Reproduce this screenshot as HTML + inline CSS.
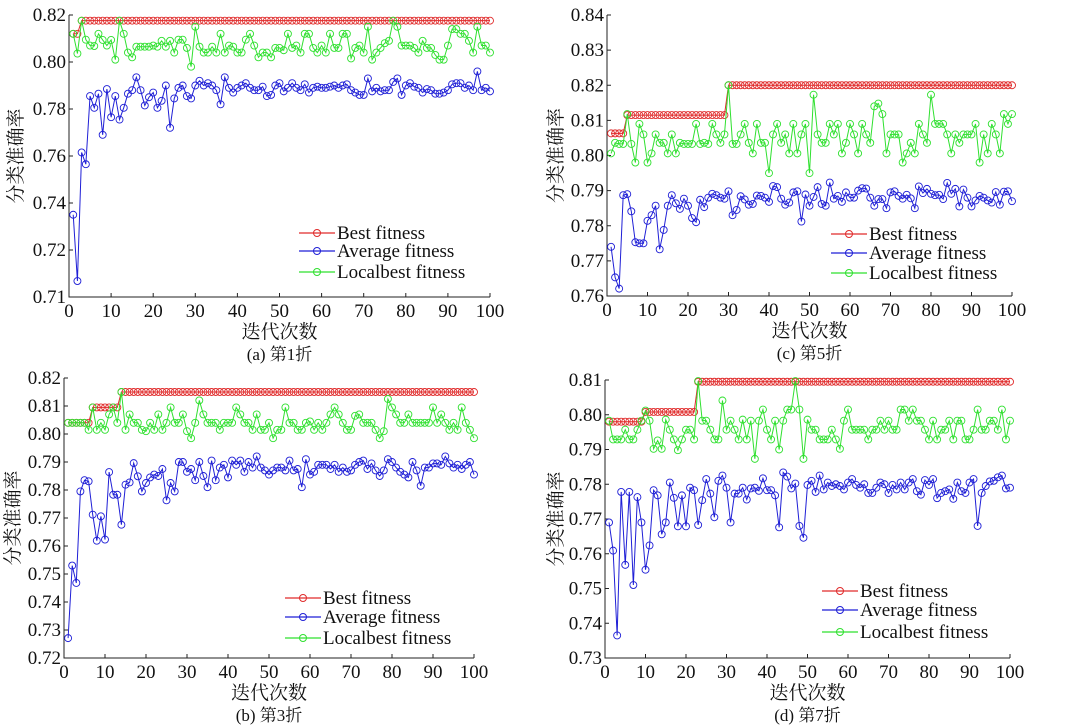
<!DOCTYPE html>
<html><head><meta charset="utf-8">
<style>
html,body{margin:0;padding:0;background:#fff;}
svg{display:block;}
svg text{font-family:"Liberation Serif","Noto Serif CJK SC",serif;}
</style></head>
<body>
<svg id="fig" width="1087" height="726" viewBox="0 0 1087 726" xmlns="http://www.w3.org/2000/svg" font-family="'Liberation Serif','Noto Serif CJK SC',serif"></svg>
<script>
// ---- data (iterations 1..100) ----
const iterations = Array.from({length:100},(_,i)=>i+1);
const xTickLabels = ['0','10','20','30','40','50','60','70','80','90','100'];
const xTickValues = [0,10,20,30,40,50,60,70,80,90,100];

// Panel (a) fold 1
const bestA = [0.812,0.812,0.8176,0.8176,0.8176,0.8176,0.8176,0.8176,0.8176,0.8176,0.8176,0.8176,0.8176,0.8176,0.8176,0.8176,0.8176,0.8176,0.8176,0.8176,0.8176,0.8176,0.8176,0.8176,0.8176,0.8176,0.8176,0.8176,0.8176,0.8176,0.8176,0.8176,0.8176,0.8176,0.8176,0.8176,0.8176,0.8176,0.8176,0.8176,0.8176,0.8176,0.8176,0.8176,0.8176,0.8176,0.8176,0.8176,0.8176,0.8176,0.8176,0.8176,0.8176,0.8176,0.8176,0.8176,0.8176,0.8176,0.8176,0.8176,0.8176,0.8176,0.8176,0.8176,0.8176,0.8176,0.8176,0.8176,0.8176,0.8176,0.8176,0.8176,0.8176,0.8176,0.8176,0.8176,0.8176,0.8176,0.8176,0.8176,0.8176,0.8176,0.8176,0.8176,0.8176,0.8176,0.8176,0.8176,0.8176,0.8176,0.8176,0.8176,0.8176,0.8176,0.8176,0.8176,0.8176,0.8176,0.8176,0.8176];
const avgA = [0.735,0.7068,0.7615,0.7565,0.7855,0.7805,0.7865,0.769,0.7885,0.7765,0.7855,0.7755,0.7805,0.7865,0.788,0.7935,0.788,0.7815,0.785,0.787,0.7805,0.7835,0.790,0.772,0.7845,0.789,0.790,0.7855,0.7845,0.790,0.792,0.790,0.791,0.790,0.788,0.782,0.7935,0.789,0.787,0.789,0.790,0.791,0.789,0.788,0.788,0.7895,0.7855,0.786,0.790,0.791,0.7875,0.789,0.791,0.789,0.788,0.7905,0.787,0.789,0.7895,0.789,0.789,0.7895,0.790,0.789,0.790,0.7905,0.788,0.787,0.786,0.786,0.793,0.7875,0.789,0.7875,0.788,0.788,0.7915,0.793,0.786,0.790,0.791,0.7895,0.789,0.787,0.7885,0.788,0.7865,0.7865,0.787,0.788,0.7905,0.791,0.791,0.789,0.790,0.788,0.796,0.788,0.789,0.7875];
const localA = [0.812,0.8036,0.8176,0.8095,0.807,0.8068,0.812,0.8094,0.807,0.8094,0.801,0.8176,0.812,0.804,0.802,0.8065,0.8065,0.8065,0.8065,0.807,0.8065,0.809,0.8065,0.809,0.804,0.8095,0.8095,0.806,0.798,0.815,0.8065,0.804,0.804,0.8065,0.804,0.812,0.804,0.807,0.8065,0.804,0.804,0.8095,0.812,0.807,0.802,0.804,0.804,0.802,0.806,0.806,0.805,0.812,0.806,0.807,0.804,0.812,0.812,0.806,0.804,0.807,0.804,0.812,0.806,0.806,0.812,0.812,0.8015,0.806,0.807,0.804,0.815,0.801,0.804,0.806,0.808,0.809,0.8176,0.815,0.807,0.807,0.807,0.806,0.804,0.809,0.806,0.806,0.803,0.801,0.801,0.807,0.814,0.814,0.812,0.812,0.809,0.804,0.815,0.807,0.807,0.804];

// Panel (c) fold 5
const bestC = [0.8063,0.8063,0.8063,0.8063,0.8115,0.8115,0.8115,0.8115,0.8115,0.8115,0.8115,0.8115,0.8115,0.8115,0.8115,0.8115,0.8115,0.8115,0.8115,0.8115,0.8115,0.8115,0.8115,0.8115,0.8115,0.8115,0.8115,0.8115,0.8115,0.820,0.820,0.820,0.820,0.820,0.820,0.820,0.820,0.820,0.820,0.820,0.820,0.820,0.820,0.820,0.820,0.820,0.820,0.820,0.820,0.820,0.820,0.820,0.820,0.820,0.820,0.820,0.820,0.820,0.820,0.820,0.820,0.820,0.820,0.820,0.820,0.820,0.820,0.820,0.820,0.820,0.820,0.820,0.820,0.820,0.820,0.820,0.820,0.820,0.820,0.820,0.820,0.820,0.820,0.820,0.820,0.820,0.820,0.820,0.820,0.820,0.820,0.820,0.820,0.820,0.820,0.820,0.820,0.820,0.820,0.820];
const avgC = [0.774,0.7653,0.7621,0.7887,0.789,0.7841,0.7753,0.775,0.775,0.7814,0.783,0.7857,0.7733,0.7788,0.7857,0.7887,0.7864,0.7848,0.7877,0.7857,0.7822,0.781,0.7874,0.7853,0.788,0.7891,0.7887,0.788,0.7877,0.7898,0.783,0.7845,0.7884,0.7875,0.786,0.7862,0.7886,0.7885,0.788,0.7868,0.7913,0.791,0.7877,0.786,0.7866,0.7895,0.7898,0.7812,0.7889,0.7857,0.7882,0.791,0.7862,0.7857,0.7923,0.7877,0.7885,0.7868,0.7895,0.788,0.788,0.790,0.7907,0.7906,0.788,0.7857,0.7876,0.7876,0.785,0.7895,0.7898,0.7885,0.7877,0.7888,0.7878,0.785,0.7912,0.7893,0.7905,0.7891,0.7887,0.7888,0.7876,0.7922,0.7891,0.7905,0.7855,0.7903,0.788,0.7855,0.7872,0.7885,0.788,0.7872,0.7866,0.7896,0.786,0.7897,0.7898,0.787];
const localC = [0.8006,0.8036,0.8033,0.8033,0.8118,0.8033,0.798,0.809,0.806,0.798,0.8006,0.806,0.8036,0.8036,0.8006,0.806,0.8006,0.8036,0.8033,0.8033,0.8033,0.809,0.8033,0.8036,0.8033,0.809,0.806,0.8036,0.806,0.820,0.8033,0.8033,0.806,0.809,0.8036,0.8006,0.809,0.8036,0.8036,0.795,0.806,0.809,0.8036,0.806,0.8006,0.809,0.8006,0.806,0.809,0.795,0.8173,0.806,0.8036,0.8036,0.809,0.806,0.809,0.8006,0.8036,0.809,0.806,0.8006,0.809,0.806,0.8036,0.814,0.8148,0.8118,0.8006,0.806,0.806,0.806,0.798,0.8006,0.8036,0.8006,0.809,0.806,0.8036,0.8173,0.809,0.809,0.809,0.806,0.8006,0.806,0.8036,0.806,0.806,0.806,0.809,0.798,0.806,0.8006,0.809,0.806,0.8006,0.8118,0.809,0.8118];

// Panel (b) fold 3
const bestB = [0.804,0.804,0.804,0.804,0.804,0.804,0.8095,0.8095,0.8095,0.8095,0.8095,0.8095,0.8095,0.815,0.815,0.815,0.815,0.815,0.815,0.815,0.815,0.815,0.815,0.815,0.815,0.815,0.815,0.815,0.815,0.815,0.815,0.815,0.815,0.815,0.815,0.815,0.815,0.815,0.815,0.815,0.815,0.815,0.815,0.815,0.815,0.815,0.815,0.815,0.815,0.815,0.815,0.815,0.815,0.815,0.815,0.815,0.815,0.815,0.815,0.815,0.815,0.815,0.815,0.815,0.815,0.815,0.815,0.815,0.815,0.815,0.815,0.815,0.815,0.815,0.815,0.815,0.815,0.815,0.815,0.815,0.815,0.815,0.815,0.815,0.815,0.815,0.815,0.815,0.815,0.815,0.815,0.815,0.815,0.815,0.815,0.815,0.815,0.815,0.815,0.815];
const avgB = [0.7271,0.753,0.7468,0.7795,0.7835,0.7831,0.7712,0.7619,0.7706,0.7623,0.7864,0.7783,0.7783,0.7676,0.7819,0.7827,0.7896,0.7849,0.7795,0.7825,0.7845,0.7855,0.785,0.7875,0.7763,0.7825,0.7795,0.790,0.790,0.7865,0.7875,0.7835,0.790,0.785,0.781,0.7905,0.7835,0.788,0.789,0.7845,0.7905,0.789,0.7905,0.7865,0.790,0.788,0.792,0.788,0.787,0.7855,0.787,0.788,0.788,0.787,0.7905,0.787,0.7875,0.781,0.791,0.7855,0.7865,0.789,0.789,0.789,0.7875,0.789,0.7865,0.788,0.7865,0.787,0.789,0.790,0.7905,0.7875,0.7895,0.787,0.785,0.787,0.791,0.790,0.788,0.7865,0.7855,0.7845,0.790,0.787,0.7815,0.788,0.788,0.7895,0.7895,0.789,0.792,0.7895,0.788,0.789,0.7875,0.789,0.790,0.7855];
const localB = [0.804,0.804,0.804,0.804,0.804,0.8015,0.8095,0.8015,0.804,0.8015,0.807,0.8095,0.804,0.815,0.8015,0.807,0.804,0.804,0.8015,0.801,0.804,0.8015,0.807,0.8015,0.804,0.8095,0.804,0.804,0.807,0.801,0.7985,0.804,0.812,0.807,0.804,0.804,0.804,0.8015,0.804,0.804,0.804,0.8095,0.807,0.804,0.804,0.8015,0.807,0.8015,0.8015,0.804,0.7985,0.8015,0.8015,0.8095,0.804,0.804,0.8015,0.8015,0.804,0.8045,0.8015,0.804,0.8015,0.804,0.807,0.8095,0.807,0.804,0.8015,0.8015,0.8065,0.807,0.804,0.804,0.804,0.8015,0.7985,0.801,0.8125,0.8095,0.807,0.804,0.804,0.807,0.804,0.804,0.804,0.804,0.804,0.8095,0.804,0.807,0.804,0.8015,0.804,0.8015,0.8095,0.804,0.8015,0.7985];

// Panel (d) fold 7
const bestD = [0.798,0.798,0.798,0.798,0.798,0.798,0.798,0.798,0.798,0.8008,0.8008,0.8008,0.8008,0.8008,0.8008,0.8008,0.8008,0.8008,0.8008,0.8008,0.8008,0.8008,0.8095,0.8095,0.8095,0.8095,0.8095,0.8095,0.8095,0.8095,0.8095,0.8095,0.8095,0.8095,0.8095,0.8095,0.8095,0.8095,0.8095,0.8095,0.8095,0.8095,0.8095,0.8095,0.8095,0.8095,0.8095,0.8095,0.8095,0.8095,0.8095,0.8095,0.8095,0.8095,0.8095,0.8095,0.8095,0.8095,0.8095,0.8095,0.8095,0.8095,0.8095,0.8095,0.8095,0.8095,0.8095,0.8095,0.8095,0.8095,0.8095,0.8095,0.8095,0.8095,0.8095,0.8095,0.8095,0.8095,0.8095,0.8095,0.8095,0.8095,0.8095,0.8095,0.8095,0.8095,0.8095,0.8095,0.8095,0.8095,0.8095,0.8095,0.8095,0.8095,0.8095,0.8095,0.8095,0.8095,0.8095,0.8095];
const avgD = [0.769,0.7609,0.7365,0.7778,0.7568,0.7778,0.751,0.7763,0.769,0.7554,0.7624,0.7783,0.7768,0.7656,0.769,0.7805,0.7761,0.7679,0.7768,0.7679,0.779,0.7783,0.7683,0.7754,0.7815,0.7773,0.7705,0.781,0.7825,0.779,0.769,0.7773,0.7773,0.779,0.7756,0.7788,0.779,0.7781,0.7817,0.7783,0.7783,0.7768,0.7676,0.7834,0.7822,0.7788,0.7802,0.768,0.7646,0.7798,0.781,0.7778,0.7825,0.7785,0.7805,0.7795,0.780,0.7795,0.7785,0.7805,0.7815,0.7798,0.779,0.780,0.7775,0.7775,0.779,0.7805,0.780,0.7775,0.7798,0.7785,0.7805,0.7785,0.7805,0.7815,0.778,0.777,0.7812,0.7798,0.7815,0.776,0.7775,0.778,0.7785,0.7758,0.7805,0.778,0.7775,0.7805,0.7815,0.768,0.7775,0.7795,0.7808,0.781,0.782,0.7825,0.7788,0.779];
const localD = [0.7983,0.7929,0.7929,0.7929,0.7957,0.7929,0.7929,0.7957,0.7983,0.8012,0.7983,0.7902,0.7926,0.7902,0.7986,0.7957,0.7929,0.7898,0.7929,0.7957,0.7957,0.7929,0.8097,0.7983,0.7983,0.7957,0.7929,0.7929,0.8041,0.7957,0.7983,0.7957,0.7929,0.7986,0.7929,0.7983,0.7873,0.7983,0.8015,0.7957,0.7929,0.7983,0.790,0.7983,0.8015,0.8015,0.8097,0.8015,0.7873,0.7986,0.7957,0.7957,0.7929,0.7929,0.7929,0.7957,0.7929,0.7902,0.7983,0.8015,0.7957,0.7957,0.7957,0.7957,0.7929,0.7957,0.7957,0.7983,0.7957,0.7983,0.7957,0.7957,0.8015,0.8015,0.7983,0.8015,0.7983,0.7983,0.7957,0.7929,0.7983,0.7929,0.7957,0.7957,0.7983,0.7929,0.7983,0.7983,0.7929,0.7929,0.7957,0.8015,0.7957,0.7957,0.7983,0.7983,0.7957,0.8015,0.7929,0.7983];

// y tick labels per panel
const yTicksA = [0.82,0.80,0.78,0.76,0.74,0.72,0.70];
const yLabelsA = ['0.82','0.80','0.78','0.76','0.74','0.72','0.71'];
const yTicksC = [0.84,0.83,0.82,0.81,0.80,0.79,0.78,0.77,0.76];
const yLabelsC = ['0.84','0.83','0.82','0.81','0.80','0.79','0.78','0.77','0.76'];
const yTicksB = [0.82,0.81,0.80,0.79,0.78,0.77,0.76,0.75,0.74,0.73,0.72];
const yLabelsB = ['0.82','0.81','0.80','0.79','0.78','0.77','0.76','0.75','0.74','0.73','0.72'];
const yTicksD = [0.81,0.80,0.79,0.78,0.77,0.76,0.75,0.74,0.73];
const yLabelsD = ['0.81','0.80','0.79','0.78','0.77','0.76','0.75','0.74','0.73'];
const seriesNames = ['Best fitness','Average fitness','Localbest fitness'];

const NS='http://www.w3.org/2000/svg';
const svg=document.getElementById('fig');
const COLORS=['#e02b2b','#1f1fd6','#2fe02f'];
const FONT="'Liberation Serif','Noto Serif CJK SC',serif";

function mk(tag,attrs,parent){const e=document.createElementNS(NS,tag);for(const k in attrs)e.setAttribute(k,attrs[k]);if(tag==='text')e.setAttribute('font-family',FONT);(parent||svg).appendChild(e);return e;}

function panel(p){
  const g=mk('g',{});
  
  
  const xs=v=>p.x0+(v)*(p.x1-p.x0)/100;
  const ys=v=>p.yTop+(p.vTop-v)*(p.yBot-p.yTop)/(p.vTop-p.vBot);
  const ax=mk('path',{d:`M${p.x0},${p.yTop} V${p.yBot} H${p.x1}`,fill:'none',stroke:'#222','stroke-width':1},g);
  
  
  p.yT.forEach((v,i)=>{
    const y=ys(v);
    mk('line',{x1:p.x0,x2:p.x0+4,y1:y,y2:y,stroke:'#222'},g);
    const t=mk('text',{x:p.x0-3,y:y+6,'text-anchor':'end','font-size':19,fill:'#111'},g);
    t.textContent=p.yL[i];
    
    
  });
  xTickValues.forEach((v,i)=>{
    const x=xs(v);
    mk('line',{x1:x,x2:x,y1:p.yBot,y2:p.yBot-4,stroke:'#222'},g);
    const t=mk('text',{x:x,y:p.yBot+20,'text-anchor':'middle','font-size':19,fill:'#111'},g);
    t.textContent=xTickLabels[i];
    
    
  });
  const data=[p.best,p.avg,p.local];
  [0,1,2].forEach(si=>{
    const arr=data[si];
    const sg=mk('g',{},g);
    
    
    const pts=arr.map((v,i)=>xs(iterations[i]).toFixed(2)+','+ys(v).toFixed(2)).join(' ');
    mk('polyline',{points:pts,fill:'none',stroke:COLORS[si],'stroke-width':1},sg);
    arr.forEach((v,i)=>{
      const c=mk('circle',{cx:xs(iterations[i]),cy:ys(v),r:3.5,fill:'none',stroke:COLORS[si],'stroke-width':0.9},sg);
      
      
    });
  });
  const lg=mk('g',{},g);
  
  
  seriesNames.forEach((n,i)=>{
    const y=p.legY[i];
    mk('line',{x1:p.legX,x2:p.legX+36,y1:y,y2:y,stroke:COLORS[i],'stroke-width':1.2},lg);
    mk('circle',{cx:p.legX+18,cy:y,r:3.5,fill:'none',stroke:COLORS[i],'stroke-width':1},lg);
    const t=mk('text',{x:p.legX+38,y:y+6,'font-size':19,fill:'#111'},lg);
    t.textContent=n;
    
    
  });
  const xt=mk('text',{x:(p.x0+p.x1)/2,y:p.yBot+41,'text-anchor':'middle','font-size':19,fill:'#111'},g);
  xt.textContent='迭代次数';
  
  
  const cap=mk('text',{x:(p.x0+p.x1)/2,y:p.yBot+63,'text-anchor':'middle','font-size':17,fill:'#111'},g);
  cap.textContent=p.caption;
  
  
  const yc=(p.yTop+p.yBot)/2;
  const yt=mk('text',{x:p.yLabX,y:yc,'text-anchor':'middle','font-size':19,fill:'#111',transform:`rotate(-90 ${p.yLabX} ${yc})`},g);
  yt.textContent='分类准确率';
  
  
}

panel({id:'a',x0:69,x1:490,yTop:15,yBot:297,vTop:0.82,vBot:0.70,yT:yTicksA,yL:yLabelsA,best:bestA,avg:avgA,local:localA,legX:299,legY:[233,251,272],caption:'(a) 第1折',yLabX:22});
panel({id:'c',x0:607,x1:1012,yTop:15,yBot:296,vTop:0.84,vBot:0.76,yT:yTicksC,yL:yLabelsC,best:bestC,avg:avgC,local:localC,legX:831,legY:[234,253,273],caption:'(c) 第5折',yLabX:562});
panel({id:'b',x0:64,x1:474,yTop:378,yBot:658,vTop:0.82,vBot:0.72,yT:yTicksB,yL:yLabelsB,best:bestB,avg:avgB,local:localB,legX:285,legY:[598,617,638],caption:'(b) 第3折',yLabX:19});
panel({id:'d',x0:605,x1:1010,yTop:380,yBot:658,vTop:0.81,vBot:0.73,yT:yTicksD,yL:yLabelsD,best:bestD,avg:avgD,local:localD,legX:822,legY:[591,610,632],caption:'(d) 第7折',yLabX:562});
</script>
</body></html>
